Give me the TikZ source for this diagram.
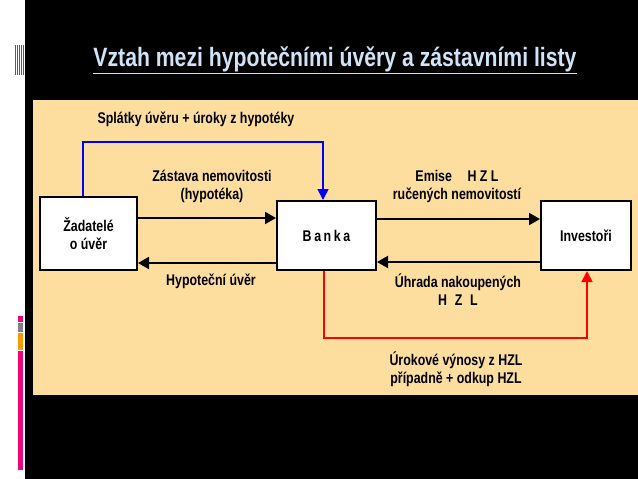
\documentclass[tikz,border=0pt]{standalone}
\usepackage{fontspec}
\setmainfont[FakeStretch=0.8]{Liberation Sans}
\usepackage{tikz}
\usetikzlibrary{arrows.meta}
\definecolor{panel}{HTML}{FDDE9E}
\definecolor{titleblue}{HTML}{CFE4F7}
\tikzset{
  boxnode/.style={draw,line width=2pt,fill=white,inner sep=0pt,font=\bfseries\fontsize{15.5}{18}\selectfont,align=center},
  flowlabel/.style={font=\bfseries\fontsize{15.5}{18}\selectfont,align=center,inner sep=0pt},
  flow/.style={line width=2pt,-{Triangle[length=11pt,width=12pt]}}
}
\begin{document}
\begin{tikzpicture}[x=1pt,y=-1pt]
\useasboundingbox (0,0) rectangle (638,479);
\fill[black] (0,0) rectangle (638,479);
\fill[white] (0,0) rectangle (25,479);
% decorations on the left strip
\foreach \x in {15,17,19,21,23} \fill[gray!70!black] (\x,45) rectangle ++(1,30);
\fill[magenta!80!red] (18,316) rectangle (23,322);
\fill[gray] (18,323) rectangle (23,332);
\fill[orange!80!yellow] (18,333) rectangle (23,350);
\fill[magenta!80!red] (18,351) rectangle (23,470);
\node[font=\bfseries\fontsize{26.5}{28}\selectfont,text=titleblue,inner sep=0pt] (title) at (335,60) {\underline{Vztah mezi hypotečními úvěry a zástavními listy}};
\fill[panel] (33,100) rectangle (638,395);

\node[boxnode,minimum width=97pt,minimum height=73pt] (zad) at (88.5,233.5) {Žadatelé\\o úvěr};
\node[boxnode,minimum width=99pt,minimum height=69pt] (banka) at (326.5,235.5) {B\,a\,n\,k\,a};
\node[boxnode,minimum width=90pt,minimum height=69pt] (inv) at (586,235.5) {Investoři};

\draw[flow] (zad.east |- 0,218) -- (banka.west |- 0,218);
\draw[flow] (banka.west |- 0,263) -- (zad.east |- 0,263);
\draw[flow] (banka.east |- 0,219) -- (inv.west |- 0,219);
\draw[flow] (inv.west |- 0,262) -- (banka.east |- 0,262);
\draw[blue,line width=1.6pt,-{Triangle[length=11pt,width=11pt]}] (zad.north -| 83,0) -- (83,142) -- (323,142) -- (banka.north -| 323,0);
\draw[red,line width=1.6pt,-{Triangle[length=11pt,width=11pt]}] (banka.south -| 324,0) -- (324,338) -- (587,338) -- (inv.south -| 587,0);

\node[flowlabel] (splatky) at (196,119) {Splátky úvěru + úroky z hypotéky};
\node[flowlabel] (zastava) at (212,186) {Zástava nemovitosti\\(hypotéka)};
\node[flowlabel] (hypuver) at (211,281) {Hypoteční úvěr};
\node[flowlabel] (emise) at (457,186) {Emise\quad H Z L\\ručených nemovitostí};
\node[flowlabel] (uhrada) at (458,290) {Úhrada nakoupených\\H\enspace Z\enspace L};
\node[flowlabel] (vynosy) at (456,369) {Úrokové výnosy z HZL\\případně + odkup HZL};
\end{tikzpicture}
\end{document}
